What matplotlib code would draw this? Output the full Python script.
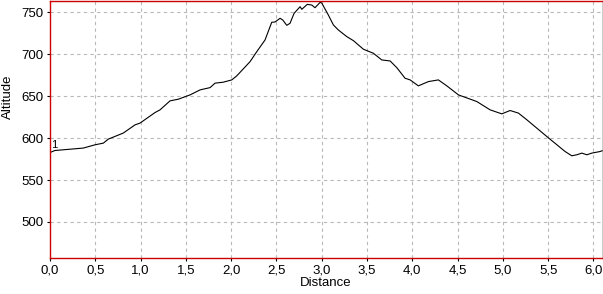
import matplotlib.pyplot as plt

# Elevation profile
distance = [0.011, 0.055, 0.368, 0.497, 0.589, 0.644, 0.809, 0.939, 0.994, 1.16,
            1.215, 1.325, 1.417, 1.546, 1.657, 1.767, 1.822, 1.914, 2.007, 2.062,
            2.209, 2.283, 2.374, 2.448, 2.485, 2.54, 2.57, 2.614, 2.65, 2.695,
            2.761, 2.78, 2.841, 2.89, 2.926, 2.982, 3.0, 3.073, 3.129, 3.184,
            3.277, 3.35, 3.46, 3.57, 3.663, 3.755, 3.829, 3.92, 3.976, 4.067,
            4.178, 4.288, 4.381, 4.51, 4.712, 4.859, 4.988, 5.08, 5.172, 5.265,
            5.485, 5.687, 5.761, 5.817, 5.872, 5.927, 5.982, 6.074, 6.096]
altitude = [583.3, 585.2, 588.1, 592.0, 594.0, 598.8, 606.0, 615.8, 617.9, 630.5,
            633.7, 644.4, 646.4, 651.5, 657.5, 660.2, 665.5, 666.7, 669.4, 674.2,
            691.2, 703.1, 717.0, 738.1, 738.5, 742.9, 740.8, 734.5, 736.9, 748.8,
            756.7, 753.6, 759.5, 758.7, 755.5, 761.9, 761.1, 746.8, 734.9, 728.9,
            721.0, 716.2, 706.0, 701.2, 693.2, 692.0, 684.0, 671.4, 669.4, 662.3,
            667.4, 669.4, 662.3, 651.5, 643.6, 633.7, 628.9, 632.9, 629.8, 621.8,
            601.9, 584.0, 578.9, 580.1, 582.1, 580.1, 582.1, 584.0, 584.9]

x_ticks = [0.0, 0.5, 1.0, 1.5, 2.0, 2.5, 3.0, 3.5, 4.0, 4.5, 5.0, 5.5, 6.0]
y_ticks = [500, 550, 600, 650, 700, 750]

plt.rcParams['font.family'] = ['Liberation Sans', 'DejaVu Sans']

fig = plt.figure(figsize=(6.03, 2.94), dpi=100)
ax = fig.add_axes([50 / 603, 1 - 258 / 294, 552.5 / 603, 257 / 294])

ax.plot(distance, altitude, color='black', linewidth=0.8)
ax.text(distance[0], altitude[0] + 3, "1", fontsize=8, ha='left', va='bottom')

ax.set_xlim(0, 6.1)
ax.set_ylim(457, 763.5)
ax.set_xticks(x_ticks)
ax.set_xticklabels([f"{v:.1f}".replace('.', ',') for v in x_ticks])
ax.set_yticks(y_ticks)
ax.tick_params(labelsize=9.5, length=2.5, width=0.8, pad=2)

ax.grid(True, color='#b8b8b8', linestyle=(0, (3, 3)), linewidth=0.8)

for side in ['left', 'bottom', 'top']:
    ax.spines[side].set_color('#cc0000')
    ax.spines[side].set_linewidth(1.0)
ax.spines['right'].set_color('black')
ax.spines['right'].set_linewidth(1.0)

fig.text(326 / 603, 1 - 283 / 294, "Distance", fontsize=9.5, ha='center', va='center')
fig.text(8 / 603, 1 - 97 / 294, "Altitude", fontsize=9.5, rotation=90,
         ha='center', va='center')

fig.savefig("out.png", dpi=100)
